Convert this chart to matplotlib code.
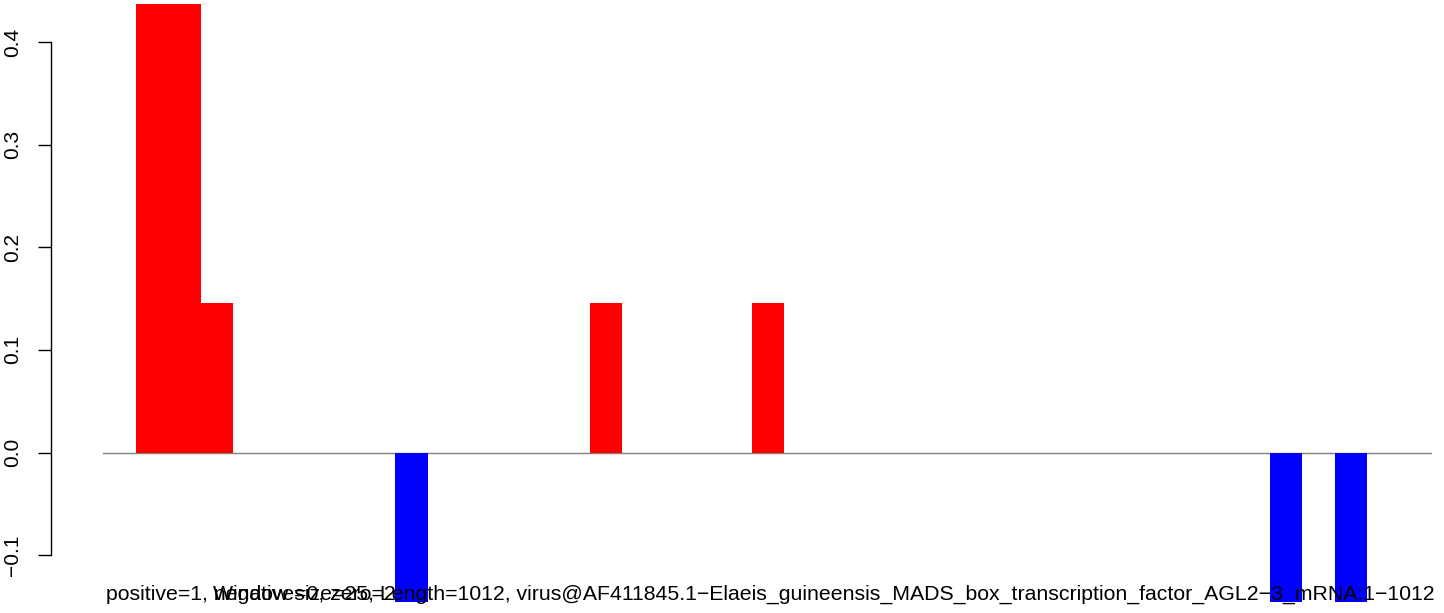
import numpy as np
import matplotlib
matplotlib.use("Agg")
import matplotlib.pyplot as plt

plt.rcParams['font.family'] = ['Liberation Sans', 'DejaVu Sans']

# window index of each bar and its value
bar_index = [0, 1, 2, 8, 14, 19, 35, 37]
bar_value = [0.4375, 0.4375, 0.1455, -0.1455, 0.1455, 0.1455, -0.1455, -0.1455]
bar_color = ["red" if v > 0 else "blue" for v in bar_value]

yticks = [-0.1, 0.0, 0.1, 0.2, 0.3, 0.4]
ytick_labels = ["\u22120.1", "0.0", "0.1", "0.2", "0.3", "0.4"]

caption_a = "positive=1, negative=0, zero=2"
caption_b = ("Window size=25, Length=1012, virus@AF411845.1\u2212Elaeis_guineensis_"
             "MADS_box_transcription_factor_AGL2\u22123_mRNA:1\u22121012")

W, H = 1444, 613
fig = plt.figure(figsize=(W / 100, H / 100), dpi=100)
# axes box in pixels: x 103..1432, y full height
ax = fig.add_axes([103 / W, 0, 1329 / W, 1])
ax.set_xlim(-1.02, 40.0)
ax.set_ylim((452.5 - 613) / 1026, 452.5 / 1026)

ax.axhline(0, color="#808080", linewidth=1.0, zorder=1)
ax.bar(bar_index, bar_value, width=1.0, align="edge", color=bar_color,
       linewidth=0, zorder=2, clip_on=False)

for s in ["top", "right", "bottom"]:
    ax.spines[s].set_visible(False)
ax.spines["left"].set_position(("outward", 37.6))
ax.spines["left"].set_bounds(-0.1, 0.4)
ax.spines["left"].set_linewidth(1.0)
ax.set_xticks([])
ax.set_yticks(yticks)
ax.set_yticklabels(ytick_labels, rotation=90, va="center", fontsize=15)
ax.tick_params(axis="y", length=9.4, width=1.0, pad=11)

fs = 15.3
fig.text(106 / W, 1 - 594 / H, caption_a, fontsize=fs, va="center", ha="left")
fig.text(213 / W, 1 - 594 / H, caption_b, fontsize=fs, va="center", ha="left")

fig.savefig("out.png", dpi=100)
